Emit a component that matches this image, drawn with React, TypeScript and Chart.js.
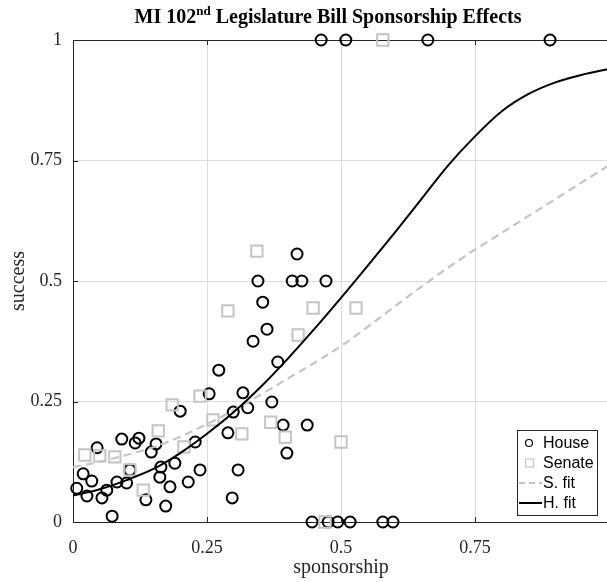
import React, { useEffect, useRef } from "react";
import { Chart, registerables } from "chart.js";

Chart.register(...registerables);

const houseX = [
  0.463, 0.509, 0.662, 0.89,
  0.446, 0.476, 0.494, 0.517, 0.578, 0.597,
  0.418, 0.345, 0.409, 0.427, 0.472, 0.354, 0.362, 0.336, 0.382, 0.272,
  0.254, 0.317, 0.371, 0.326, 0.299, 0.2, 0.289, 0.392, 0.437, 0.399,
  0.228, 0.19, 0.237, 0.308, 0.297, 0.091, 0.123, 0.116, 0.155, 0.146,
  0.045, 0.164, 0.106, 0.019, 0.035, 0.007, 0.063, 0.082, 0.1, 0.026,
  0.054, 0.162, 0.181, 0.136, 0.173, 0.073, 0.215,
];
const houseY = [
  1, 1, 1, 1,
  0, 0, 0, 0, 0, 0,
  0.556, 0.5, 0.5, 0.5, 0.5, 0.456, 0.4, 0.375, 0.332, 0.315,
  0.266, 0.268, 0.249, 0.237, 0.228, 0.23, 0.185, 0.201, 0.201, 0.143,
  0.166, 0.122, 0.108, 0.108, 0.05, 0.172, 0.174, 0.164, 0.162, 0.145,
  0.154, 0.114, 0.108, 0.1, 0.085, 0.07, 0.066, 0.083, 0.081, 0.054,
  0.05, 0.093, 0.073, 0.046, 0.033, 0.012, 0.083,
];

const senateX = [
  0.578, 0.47, 0.343, 0.289, 0.448, 0.528, 0.42, 0.396, 0.5, 0.315,
  0.369, 0.261, 0.237, 0.185, 0.207, 0.159, 0.022, 0.05, 0.078, 0.106, 0.131,
];
const senateY = [
  1, 0, 0.562, 0.438, 0.444, 0.444, 0.388, 0.176, 0.166, 0.183,
  0.207, 0.212, 0.261, 0.243, 0.156, 0.189, 0.139, 0.137, 0.135, 0.108, 0.066,
];

const fitX = [
  0, 0.05, 0.1, 0.15, 0.2, 0.25, 0.3, 0.35, 0.4, 0.45, 0.5,
  0.55, 0.6, 0.65, 0.7, 0.75, 0.8, 0.85, 0.9, 0.95, 1.0,
];
const senateFitY = [
  0.114, 0.125, 0.139, 0.155, 0.177, 0.203, 0.232, 0.264, 0.297, 0.33, 0.365,
  0.405, 0.447, 0.488, 0.528, 0.565, 0.6, 0.635, 0.67, 0.705, 0.74,
];
const houseFitY = [
  0.055, 0.068, 0.087, 0.11, 0.143, 0.183, 0.228, 0.28, 0.338, 0.4, 0.465,
  0.532, 0.6, 0.67, 0.74, 0.8, 0.852, 0.888, 0.912, 0.928, 0.94,
];

const xTickLabels = ["0", "0.25", "0.5", "0.75", ""];
const yTickLabels = ["0", "0.25", "0.5", "0.75", "1"];
const legendLabels = ["House", "Senate", "S. fit", "H. fit"];

const SERIF = "'Liberation Serif', 'Times New Roman', serif";
const SANS = "'Liberation Sans', Arial, sans-serif";
const AXIS = "#262626";
const GRID = "#dcdcdc";
const LIGHT = "#c4c4c4";

const framePlugin = {
  id: "frame",
  beforeDatasetsDraw(chart: any) {
    const { ctx, chartArea: a, scales } = chart;
    ctx.save();
    ctx.strokeStyle = AXIS;
    ctx.lineWidth = 1;
    ctx.beginPath();
    ctx.moveTo(a.left + 0.5, a.top + 0.5);
    ctx.lineTo(a.left + 0.5, a.bottom + 0.5);
    ctx.lineTo(a.right, a.bottom + 0.5);
    ctx.moveTo(a.left + 0.5, a.top + 0.5);
    ctx.lineTo(a.right, a.top + 0.5);
    const tl = 5;
    scales.y.ticks.forEach((t: any) => {
      const y = Math.round(scales.y.getPixelForValue(t.value)) + 0.5;
      ctx.moveTo(a.left, y);
      ctx.lineTo(a.left + tl, y);
    });
    scales.x.ticks.forEach((t: any) => {
      const x = Math.round(scales.x.getPixelForValue(t.value)) + 0.5;
      ctx.moveTo(x, a.bottom);
      ctx.lineTo(x, a.bottom - tl);
      ctx.moveTo(x, a.top);
      ctx.lineTo(x, a.top + tl);
    });
    ctx.stroke();
    ctx.restore();
  },
  afterDraw(chart: any) {
    const { ctx } = chart;
    ctx.save();
    ctx.fillStyle = "#000";
    ctx.textBaseline = "alphabetic";
    const big = `bold 20px ${SERIF}`;
    const small = `bold 13px ${SERIF}`;
    const p1 = "MI 102";
    const p2 = "nd";
    const p3 = " Legislature Bill Sponsorship Effects";
    ctx.font = big;
    const w1 = ctx.measureText(p1).width;
    const w3 = ctx.measureText(p3).width;
    ctx.font = small;
    const w2 = ctx.measureText(p2).width;
    const total = w1 + w2 + w3;
    const cx = 328;
    let x = cx - total / 2;
    const base = 23;
    ctx.font = big;
    ctx.fillText(p1, x, base);
    x += w1;
    ctx.font = small;
    ctx.fillText(p2, x, base - 8);
    x += w2;
    ctx.font = big;
    ctx.fillText(p3, x, base);

    const L = 517, T = 430, R = 597, B = 515;
    ctx.fillStyle = "#fff";
    ctx.fillRect(L, T, R - L, B - T);
    ctx.strokeStyle = AXIS;
    ctx.lineWidth = 1;
    ctx.strokeRect(L + 0.5, T + 0.5, R - L, B - T);
    const rows = [443, 463, 483, 503];
    ctx.font = `16px ${SANS}`;
    ctx.textBaseline = "middle";
    rows.forEach((ry, i) => {
      ctx.fillStyle = "#000";
      ctx.fillText(legendLabels[i], 543, ry + 1);
      ctx.beginPath();
      if (i === 0) {
        ctx.strokeStyle = "#000";
        ctx.lineWidth = 1.2;
        ctx.arc(529, ry, 3.5, 0, Math.PI * 2);
        ctx.stroke();
      } else if (i === 1) {
        ctx.strokeStyle = LIGHT;
        ctx.lineWidth = 1.2;
        ctx.strokeRect(525.5, ry - 4, 8, 8);
      } else if (i === 2) {
        ctx.strokeStyle = LIGHT;
        ctx.lineWidth = 2;
        ctx.setLineDash([6, 4]);
        ctx.moveTo(519, ry);
        ctx.lineTo(542, ry);
        ctx.stroke();
        ctx.setLineDash([]);
      } else {
        ctx.strokeStyle = "#000";
        ctx.lineWidth = 2;
        ctx.moveTo(519, ry);
        ctx.lineTo(542, ry);
        ctx.stroke();
      }
    });
    ctx.restore();
  },
};

export default function App() {
  const ref = useRef<HTMLCanvasElement>(null);
  useEffect(() => {
    if (!ref.current) return;
    const toPts = (xs: number[], ys: number[]) => xs.map((x, i) => ({ x, y: ys[i] }));
    const chart = new Chart(ref.current, {
      type: "scatter",
      data: {
        datasets: [
          {
            label: "House",
            data: toPts(houseX, houseY),
            pointStyle: "circle",
            pointRadius: 5.5,
            borderColor: "#000",
            backgroundColor: "rgba(0,0,0,0)",
            borderWidth: 2,
            order: 4,
            clip: false,
          } as any,
          {
            label: "Senate",
            data: toPts(senateX, senateY),
            pointStyle: "rect",
            pointRadius: 8,
            borderColor: LIGHT,
            backgroundColor: "rgba(0,0,0,0)",
            borderWidth: 2,
            order: 3,
            clip: false,
          },
          {
            label: "S. fit",
            type: "line",
            data: toPts(fitX, senateFitY),
            borderColor: LIGHT,
            borderWidth: 2.2,
            borderDash: [8, 5],
            pointRadius: 0,
            cubicInterpolationMode: "monotone",
            fill: false,
            order: 2,
          },
          {
            label: "H. fit",
            type: "line",
            data: toPts(fitX, houseFitY),
            borderColor: "#000",
            borderWidth: 2,
            pointRadius: 0,
            cubicInterpolationMode: "monotone",
            fill: false,
            order: 1,
          },
        ] as any,
      },
      options: {
        responsive: false,
        animation: false,
        devicePixelRatio: 1,
        layout: { padding: { top: 40, left: 0, right: 1, bottom: 0 } },
        plugins: {
          legend: { display: false },
          tooltip: { enabled: false },
          title: { display: false },
        },
        scales: {
          x: {
            type: "linear",
            min: 0,
            max: 1,
            afterFit: (s: any) => {
              s.height = 60;
              s.paddingLeft = 0;
              s.paddingRight = 0;
            },
            ticks: {
              stepSize: 0.25,
              padding: 15,
              color: AXIS,
              font: { family: SERIF, size: 18 },
              maxRotation: 0,
              callback: (_v: any, i: number) => xTickLabels[i],
            },
            grid: { color: GRID, drawTicks: false, lineWidth: 1 },
            border: { display: false },
            title: {
              display: true,
              text: "sponsorship",
              color: AXIS,
              font: { family: SERIF, size: 20 },
              padding: { top: 0, bottom: 2 },
            },
          },
          y: {
            type: "linear",
            min: 0,
            max: 1,
            afterFit: (s: any) => {
              s.width = 73;
              s.paddingTop = 0;
              s.paddingBottom = 0;
            },
            ticks: {
              stepSize: 0.25,
              padding: 11,
              color: AXIS,
              font: { family: SERIF, size: 18 },
              callback: (_v: any, i: number) => yTickLabels[i],
            },
            grid: { color: GRID, drawTicks: false, lineWidth: 1 },
            border: { display: false },
            title: {
              display: true,
              text: "success",
              color: AXIS,
              font: { family: SERIF, size: 20 },
              padding: { top: 7, bottom: 0 },
            },
          },
        },
      } as any,
      plugins: [framePlugin],
    });
    return () => chart.destroy();
  }, []);
  return (
    <div
      style={{
        position: "fixed",
        left: 0,
        top: 0,
        width: 607,
        height: 582,
        overflow: "hidden",
        background: "#fff",
      }}
    >
      <canvas ref={ref} width={619} height={582} style={{ display: "block", width: 619, height: 582 }} />
    </div>
  );
}
